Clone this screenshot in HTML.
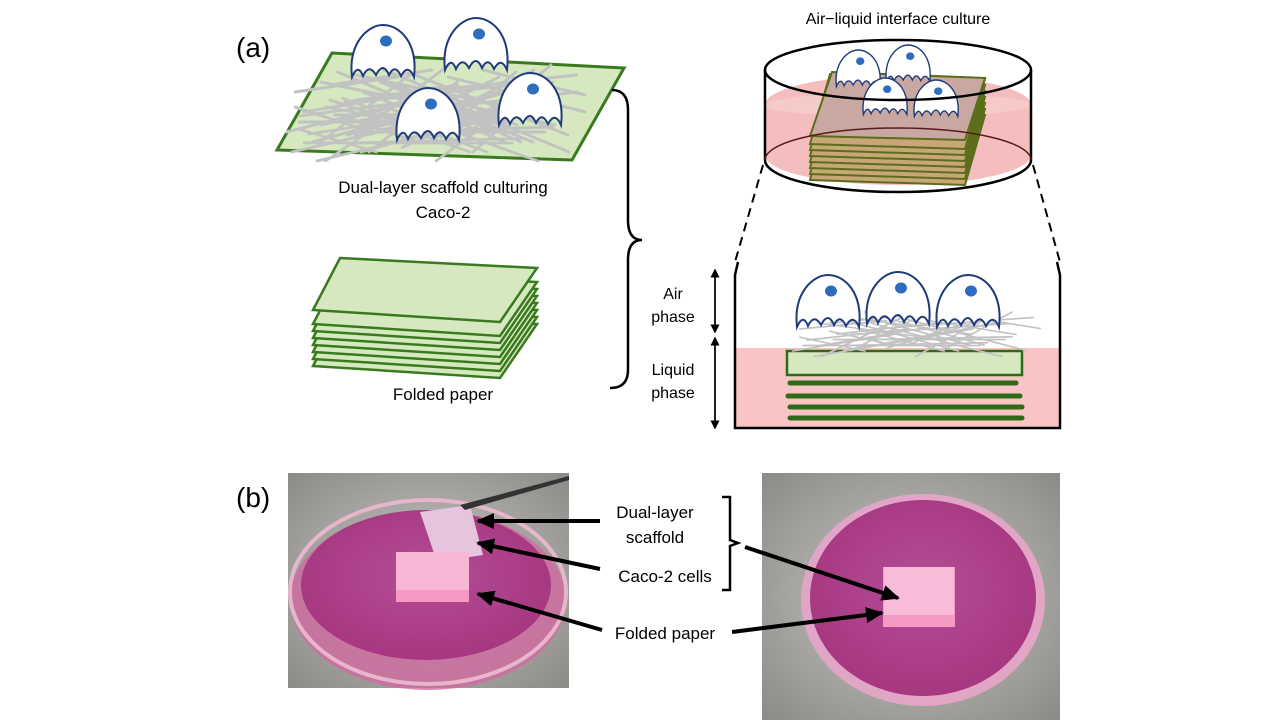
<!DOCTYPE html>
<html><head><meta charset="utf-8"><style>
html,body{margin:0;padding:0;background:#fff;}
svg{display:block;font-family:"Liberation Sans",Arial,sans-serif;}
</style></head><body>
<svg width="1280" height="720" viewBox="0 0 1280 720" xmlns="http://www.w3.org/2000/svg">
<defs>
<g id="cell">
<path d="M2,52 C-2,18 18,0 33,0 C50,0 68,18 64,52 Q58,38 51,51 Q45,38 39,50 Q33,36 26,50 Q19,38 13,51 Q8,38 2,52 Z" fill="#fff" stroke="#1f3b7a" stroke-width="2"/>
<ellipse cx="36" cy="16" rx="6" ry="5.5" fill="#2e6cc0"/>
</g>
<marker id="ah" markerWidth="4.5" markerHeight="4" refX="4" refY="2" orient="auto" markerUnits="strokeWidth"><path d="M0,0 L4.5,2 L0,4 Z" fill="#000"/></marker>
<marker id="ahs" markerWidth="6" markerHeight="6" refX="5" refY="3" orient="auto"><path d="M0,0 L6,3 L0,6 Z" fill="#000"/></marker>
<g id="fib" stroke="#c2c2c2" stroke-width="3" stroke-linecap="round" fill="none">
<path d="M0,20 L120,5"/><path d="M10,40 L150,20"/><path d="M30,10 L200,40"/><path d="M-10,60 L130,30"/>
<path d="M50,0 L220,60"/><path d="M20,70 L240,20"/><path d="M60,50 L260,45"/><path d="M100,10 L280,70"/>
<path d="M0,35 L90,60"/><path d="M140,0 L30,70"/><path d="M180,5 L300,30"/><path d="M200,60 L80,20"/>
<path d="M240,5 L120,55"/><path d="M5,50 L250,50"/><path d="M70,30 L290,10"/><path d="M160,70 L260,0"/>
</g>
<radialGradient id="bg1" cx="0.5" cy="0.5" r="0.7"><stop offset="0" stop-color="#c9c7c4"/><stop offset="1" stop-color="#8d8b88"/></radialGradient>
<radialGradient id="med" cx="0.5" cy="0.45" r="0.6"><stop offset="0" stop-color="#b54d98"/><stop offset="1" stop-color="#a5357e"/></radialGradient>
</defs>

<text x="236" y="57" font-size="28">(a)</text>
<text x="236" y="507" font-size="28">(b)</text>

<!-- top-left scaffold -->
<polygon points="332,53 624,68 572,160 277,150" fill="#d6e8c0" stroke="#3a7a1e" stroke-width="3"/>
<g transform="translate(295,72) scale(0.85,1)"><use href="#fib"/></g>
<g transform="translate(345,82) scale(0.8,1)"><use href="#fib"/></g>
<g transform="translate(300,98) scale(0.85,0.9)"><use href="#fib"/></g>
<g transform="translate(330,65) scale(0.85,1)"><use href="#fib"/></g>
<use href="#cell" x="350" y="25"/>
<use href="#cell" x="443" y="18"/>
<use href="#cell" x="395" y="88"/>
<use href="#cell" x="497" y="73"/>
<text x="443" y="193" font-size="17" text-anchor="middle">Dual-layer scaffold culturing</text>
<text x="443" y="218" font-size="17" text-anchor="middle">Caco-2</text>

<!-- folded paper stack -->
<g fill="#d6e8c0" stroke="#3a7a1e" stroke-width="2.5">
<polygon points="340,314 537,324 500,378 313,366"/>
<polygon points="340,307 537,317 500,371 313,359"/>
<polygon points="340,300 537,310 500,364 313,352"/>
<polygon points="340,293 537,303 500,357 313,345"/>
<polygon points="340,286 537,296 500,350 313,338"/>
<polygon points="340,279 537,289 500,343 313,331"/>
<polygon points="340,272 537,282 500,336 313,324"/>
<polygon points="340,258 537,268 500,322 313,310"/>
</g>
<text x="443" y="400" font-size="17" text-anchor="middle">Folded paper</text>

<!-- brace -->
<path d="M612,90 Q628,90 628,110 L628,220 Q628,240 642,240 Q628,240 628,260 L628,370 Q628,388 610,388" fill="none" stroke="#000" stroke-width="2.5"/>

<!-- top dish -->
<text x="898" y="24" font-size="16" text-anchor="middle">Air−liquid interface culture</text>
<path d="M765,105 A133,30 0 0 1 1031,105 L1031,155 A133,30 0 0 1 765,155 Z" fill="#f3b3b3" opacity="0.85"/>
<ellipse cx="898" cy="105" rx="133" ry="12" fill="#f7caca"/>
<g fill="#c9a678" stroke="#5b6e1c" stroke-width="2">
<polygon points="830,110 985,115 965,185 810,180"/>
<polygon points="830,104 985,109 965,179 810,174"/>
<polygon points="830,98 985,103 965,173 810,168"/>
<polygon points="830,92 985,97 965,167 810,162"/>
<polygon points="830,86 985,91 965,161 810,156"/>
<polygon points="830,80 985,85 965,155 810,150"/>
<polygon points="830,74 985,79 965,149 810,144"/>
<polygon points="832,72 985,78 965,140 810,136" fill="#c8a8a0"/>
</g>
<g transform="translate(835,50) scale(0.7)"><use href="#cell"/></g>
<g transform="translate(885,45) scale(0.7)"><use href="#cell"/></g>
<g transform="translate(862,78) scale(0.7)"><use href="#cell"/></g>
<g transform="translate(913,80) scale(0.7)"><use href="#cell"/></g>
<ellipse cx="898" cy="70" rx="133" ry="30" fill="none" stroke="#000" stroke-width="2.5"/>
<path d="M765,70 L765,160 A133,32 0 0 0 1031,160 L1031,70" fill="none" stroke="#000" stroke-width="2.5"/>
<path d="M765,160 A133,32 0 0 1 1031,160" fill="none" stroke="#5a1a1a" stroke-width="1.5"/>
<path d="M763,165 L735,262" stroke="#000" stroke-width="2" stroke-dasharray="9,6"/>
<path d="M1033,165 L1060,262" stroke="#000" stroke-width="2" stroke-dasharray="9,6"/>

<!-- bottom box -->
<rect x="735" y="348" width="325" height="80" fill="#f9c4c4"/>
<path d="M738,262 L735,275 L735,428 L1060,428 L1060,275 L1057,262" fill="none" stroke="#000" stroke-width="2.5"/>
<rect x="787" y="351" width="235" height="24" fill="#d6e8c0" stroke="#2e6a18" stroke-width="2.5"/>
<g stroke="#2e6a18" stroke-width="5" stroke-linecap="round">
<line x1="790" y1="383" x2="1016" y2="383"/><line x1="788" y1="396" x2="1020" y2="396"/>
<line x1="790" y1="407" x2="1022" y2="407"/><line x1="790" y1="418" x2="1022" y2="418"/>
</g>
<g transform="translate(800,318) scale(0.72,0.55)"><use href="#fib"/></g>
<g transform="translate(830,312) scale(0.7,0.55)"><use href="#fib"/></g>
<use href="#cell" x="795" y="275"/>
<use href="#cell" x="865" y="272"/>
<use href="#cell" x="935" y="275"/>
<line x1="715" y1="332" x2="715" y2="270" stroke="#000" stroke-width="1.5" marker-end="url(#ahs)"/>
<line x1="715" y1="270" x2="715" y2="332" stroke="#000" stroke-width="1.5" marker-end="url(#ahs)"/>
<line x1="715" y1="428" x2="715" y2="338" stroke="#000" stroke-width="1.5" marker-end="url(#ahs)"/>
<line x1="715" y1="338" x2="715" y2="428" stroke="#000" stroke-width="1.5" marker-end="url(#ahs)"/>
<text x="673" y="299" font-size="16" text-anchor="middle">Air</text>
<text x="673" y="322" font-size="16" text-anchor="middle">phase</text>
<text x="673" y="375" font-size="16" text-anchor="middle">Liquid</text>
<text x="673" y="398" font-size="16" text-anchor="middle">phase</text>

<!-- left photo -->
<rect x="288" y="473" width="281" height="215" fill="url(#bg1)"/>
<ellipse cx="428" cy="600" rx="138" ry="90" fill="#d06aa0" opacity="0.8"/>
<ellipse cx="426" cy="585" rx="125" ry="75" fill="url(#med)"/>
<ellipse cx="428" cy="592" rx="138" ry="92" fill="none" stroke="#e8b6cc" stroke-width="4"/>
<polygon points="420,512 470,505 483,555 437,562" fill="#e6c4de"/>
<rect x="396" y="552" width="73" height="50" fill="#f49ac4"/>
<rect x="396" y="552" width="73" height="38" fill="#f8b6d6"/>
<polygon points="460,505 569,476 569,480 465,510" fill="#333"/>

<!-- right photo -->
<rect x="762" y="473" width="298" height="247" fill="url(#bg1)"/>
<ellipse cx="923" cy="600" rx="122" ry="106" fill="#e1a6c6"/>
<ellipse cx="923" cy="598" rx="113" ry="98" fill="url(#med)"/>
<rect x="883" y="567" width="72" height="60" fill="#f49ac4"/>
<rect x="884" y="567" width="70" height="48" fill="#f8bcd8"/>

<!-- labels b -->
<text x="655" y="518" font-size="17" text-anchor="middle">Dual-layer</text>
<text x="655" y="543" font-size="17" text-anchor="middle">scaffold</text>
<text x="665" y="582" font-size="17" text-anchor="middle">Caco-2 cells</text>
<text x="665" y="639" font-size="17" text-anchor="middle">Folded paper</text>
<path d="M722,497 L730,497 L730,540 L738,543 L730,546 L730,590 L722,590" fill="none" stroke="#000" stroke-width="2.5"/>
<g stroke="#000" stroke-width="4" fill="none">
<line x1="600" y1="521" x2="478" y2="521" marker-end="url(#ah)"/>
<line x1="600" y1="569" x2="478" y2="543" marker-end="url(#ah)"/>
<line x1="602" y1="630" x2="478" y2="594" marker-end="url(#ah)"/>
<line x1="745" y1="547" x2="898" y2="598" marker-end="url(#ah)"/>
<line x1="732" y1="632" x2="882" y2="613" marker-end="url(#ah)"/>
</g>
</svg>
</body></html>
